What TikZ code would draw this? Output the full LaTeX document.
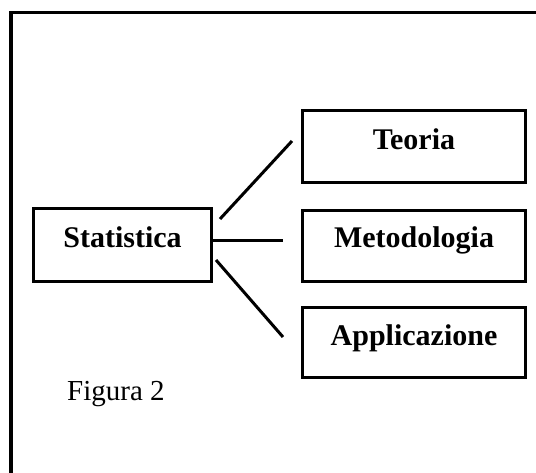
\documentclass[tikz,border=0pt]{standalone}
\usepackage{fontspec}
\setmainfont{Liberation Serif}
\begin{document}
\begin{tikzpicture}[x=1pt,y=-1pt,
  box/.style={draw, line width=3pt, inner sep=0pt, anchor=base,
    font=\fontsize{30}{36}\selectfont\bfseries},
  conn/.style={line width=3pt},
  frame/.style={line width=3.5pt}]
\useasboundingbox (0,0) rectangle (536,473);
% outer frame (only top and left sides visible)
\draw[frame] (11,480) -- (11,12.5) -- (545,12.5);
% boxes
\node[box, minimum width=178pt, text height=39.5pt, text depth=33.5pt] (stat) at (122.5,248) {Statistica};
\node[box, minimum width=223pt, text height=39.5pt, text depth=32.5pt] (teoria) at (414,150) {Teoria};
\node[box, minimum width=223pt, text height=37.5pt, text depth=33.5pt] (metod) at (414,248) {Metodologia};
\node[box, minimum width=223pt, text height=37.5pt, text depth=32.5pt] (appl) at (414,345) {Applicazione};
% connector end points
\coordinate (s1) at (220,219);
\coordinate (t1) at (292,141);
\coordinate (m1) at (283,241);
\coordinate (s3) at (216,260);
\coordinate (a1) at (283,337);
\draw[conn] (s1) -- (t1);
\draw[conn] (stat.east |- m1) -- (m1);
\draw[conn] (s3) -- (a1);
% caption
\node[anchor=base west, inner sep=0pt, font=\fontsize{29}{34}\selectfont] (fig) at (67,400) {Figura 2};
\end{tikzpicture}
\end{document}
